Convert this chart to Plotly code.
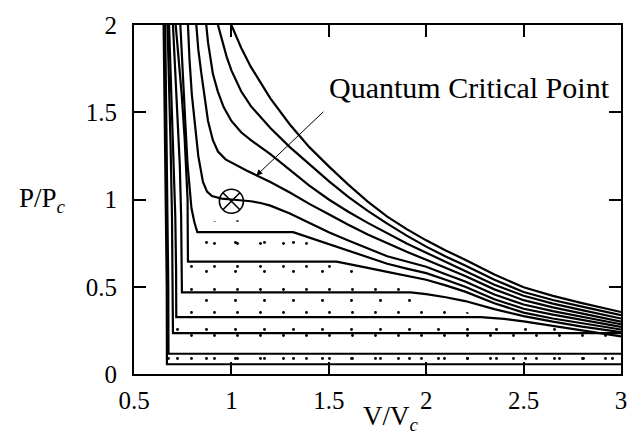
import plotly.graph_objects as go

# ---------------- data ----------------
x_ticks = [0.5, 1, 1.5, 2, 2.5, 3]
x_tick_text = ["0.5", "1", "1.5", "2", "2.5", "3"]
y_ticks = [0, 0.5, 1, 1.5, 2]
y_tick_text = ["0", "0.5", "1", "1.5", "2"]

# isotherms below the critical one (liquid branch, plateau, gas branch)
iso_056_v = [0.652, 0.658, 0.664, 0.668, 0.669, 3.0]
iso_056_p = [2.0, 1.5, 1.0, 0.5, 0.056, 0.056]

iso_116_v = [0.660, 0.666, 0.672, 0.676, 0.677, 3.0]
iso_116_p = [2.0, 1.5, 1.0, 0.5, 0.116, 0.116]

iso_234_v = [0.672, 0.680, 0.688, 0.695, 0.699, 0.700, 3.0]
iso_234_p = [2.0, 1.7, 1.3, 0.9, 0.5, 0.234, 0.234]

iso_326_v = [0.680, 0.686, 0.695, 0.705, 0.712, 0.716, 0.717, 2.28, 2.4, 2.5, 2.65, 2.8, 3.0]
iso_326_p = [2.0, 1.8, 1.5, 1.2, 0.9, 0.6, 0.326, 0.326, 0.316, 0.302, 0.276, 0.250, 0.215]

iso_468_v = [0.700, 0.710, 0.722, 0.735, 0.742, 0.745, 0.746, 1.92, 2.0, 2.1, 2.2, 2.35, 2.5, 2.65, 2.8, 3.0]
iso_468_p = [2.0, 1.75, 1.5, 1.2, 0.9, 0.7, 0.468, 0.468, 0.458, 0.440, 0.418, 0.372, 0.332, 0.300, 0.272, 0.240]

iso_644_v = [0.714, 0.730, 0.745, 0.760, 0.770, 0.775, 0.776, 0.777, 1.54, 1.6, 1.7, 1.8, 1.9, 2.0, 2.1, 2.2, 2.35, 2.5, 2.65, 2.8, 3.0]
iso_644_p = [2.0, 1.8, 1.6, 1.35, 1.15, 1.0, 0.8, 0.644, 0.644, 0.632, 0.608, 0.585, 0.562, 0.540, 0.508, 0.472, 0.405, 0.352, 0.318, 0.290, 0.255]

iso_813_v = [0.738, 0.750, 0.763, 0.775, 0.785, 0.795, 0.810, 0.825, 1.317, 1.4, 1.5, 1.6, 1.7, 1.8, 1.9, 2.0, 2.1, 2.2, 2.35, 2.5, 2.65, 2.8, 3.0]
iso_813_p = [2.0, 1.7, 1.45, 1.2, 1.05, 0.95, 0.87, 0.813, 0.813, 0.782, 0.745, 0.705, 0.667, 0.632, 0.604, 0.578, 0.540, 0.500, 0.428, 0.374, 0.340, 0.310, 0.270]

# critical isotherm (through the quantum critical point)
iso_crit_v = [0.777, 0.785, 0.797, 0.811, 0.830, 0.854, 0.875, 0.900, 0.950, 1.0, 1.05, 1.1, 1.15, 1.2, 1.3, 1.4, 1.5, 1.6, 1.7, 1.8, 1.9, 2.0, 2.1, 2.2, 2.35, 2.5, 2.65, 2.8, 3.0]
iso_crit_p = [2.0, 1.8, 1.6, 1.44, 1.25, 1.10, 1.045, 1.02, 1.005, 1.0, 0.997, 0.990, 0.980, 0.965, 0.920, 0.865, 0.812, 0.765, 0.718, 0.675, 0.645, 0.615, 0.572, 0.530, 0.455, 0.398, 0.360, 0.326, 0.285]

# isotherms above the critical one
iso_a_v = [0.820, 0.830, 0.846, 0.862, 0.880, 0.905, 0.931, 0.970, 1.026, 1.08, 1.13, 1.2, 1.3, 1.4, 1.5, 1.6, 1.7, 1.8, 1.9, 2.0, 2.1, 2.2, 2.35, 2.5, 2.65, 2.8, 3.0]
iso_a_p = [2.0, 1.86, 1.72, 1.58, 1.45, 1.34, 1.275, 1.23, 1.195, 1.165, 1.138, 1.10, 1.04, 0.975, 0.915, 0.855, 0.800, 0.748, 0.700, 0.655, 0.607, 0.562, 0.485, 0.423, 0.382, 0.346, 0.300]

iso_b_v = [0.871, 0.880, 0.905, 0.930, 0.960, 1.0, 1.05, 1.1, 1.2, 1.3, 1.4, 1.5, 1.6, 1.7, 1.8, 1.9, 2.0, 2.1, 2.2, 2.35, 2.5, 2.65, 2.8, 3.0]
iso_b_p = [2.0, 1.90, 1.72, 1.62, 1.53, 1.45, 1.385, 1.34, 1.26, 1.17, 1.08, 1.0, 0.93, 0.866, 0.807, 0.748, 0.695, 0.642, 0.592, 0.512, 0.448, 0.403, 0.366, 0.318]

iso_c_v = [0.931, 0.950, 0.975, 1.0, 1.05, 1.1, 1.2, 1.3, 1.4, 1.5, 1.6, 1.7, 1.8, 1.9, 2.0, 2.1, 2.2, 2.35, 2.5, 2.65, 2.8, 3.0]
iso_c_p = [2.0, 1.92, 1.82, 1.74, 1.62, 1.535, 1.41, 1.30, 1.20, 1.105, 1.015, 0.935, 0.862, 0.793, 0.730, 0.673, 0.622, 0.540, 0.470, 0.424, 0.386, 0.337]

iso_d_v = [1.0, 1.05, 1.1, 1.2, 1.3, 1.4, 1.5, 1.6, 1.7, 1.8, 1.9, 2.0, 2.1, 2.2, 2.35, 2.5, 2.65, 2.8, 3.0]
iso_d_p = [2.0, 1.87, 1.76, 1.58, 1.43, 1.30, 1.19, 1.085, 0.988, 0.902, 0.830, 0.766, 0.708, 0.655, 0.570, 0.497, 0.448, 0.406, 0.355]

# coexistence region (stippled)
dome_v = [0.667, 0.669, 0.677, 0.700, 0.717, 0.746, 0.777, 0.825, 0.86, 0.95, 1.1, 1.25, 1.317, 1.54, 1.92, 2.28, 2.5, 2.8, 3.0, 3.0, 0.667]
dome_p = [0.0, 0.056, 0.116, 0.234, 0.326, 0.468, 0.644, 0.813, 0.86, 0.885, 0.875, 0.84, 0.813, 0.644, 0.468, 0.326, 0.302, 0.250, 0.215, 0.0, 0.0]

qcp_v = [1.0]
qcp_p = [0.99]

label_text = "Quantum Critical Point"
label_v, label_p = 1.49, 1.64
arrow_tail_v, arrow_tail_p = 1.48, 1.511
arrow_tip_v, arrow_tip_p = 1.128, 1.137

# ---------------- figure ----------------
FONT = "Liberation Serif"
fig = go.Figure()

# two overlaid stipple patterns of different pitch give an irregular dot texture
for pitch, solid in ((23, 0.012), (29, 0.008)):
    fig.add_trace(go.Scatter(
        x=dome_v, y=dome_p, mode="lines", line=dict(width=0, color="black"),
        fill="toself", fillcolor="rgba(0,0,0,0)",
        fillpattern=dict(shape=".", size=pitch, solidity=solid, fgcolor="black",
                         bgcolor="rgba(0,0,0,0)", fillmode="replace"),
        hoverinfo="skip", showlegend=False))

curves = [
    (iso_056_v, iso_056_p), (iso_116_v, iso_116_p), (iso_234_v, iso_234_p),
    (iso_326_v, iso_326_p), (iso_468_v, iso_468_p), (iso_644_v, iso_644_p),
    (iso_813_v, iso_813_p), (iso_crit_v, iso_crit_p), (iso_a_v, iso_a_p),
    (iso_b_v, iso_b_p), (iso_c_v, iso_c_p), (iso_d_v, iso_d_p),
]
for v, p in curves:
    fig.add_trace(go.Scatter(x=v, y=p, mode="lines",
                             line=dict(color="black", width=2.2),
                             showlegend=False, hoverinfo="skip"))

fig.add_trace(go.Scatter(
    x=qcp_v, y=qcp_p, mode="markers",
    marker=dict(symbol="circle-x-open", size=24, color="black", line=dict(width=1.6, color="black")),
    showlegend=False, hoverinfo="skip"))

fig.add_annotation(x=arrow_tip_v, y=arrow_tip_p, ax=arrow_tail_v, ay=arrow_tail_p,
                   xref="x", yref="y", axref="x", ayref="y", text="",
                   showarrow=True, arrowhead=2, arrowsize=1.2, arrowwidth=1, arrowcolor="black")
fig.add_annotation(x=label_v, y=label_p, xref="x", yref="y", text=label_text,
                   showarrow=False, xanchor="left", yanchor="middle",
                   font=dict(family=FONT, size=30, color="black"))

fig.add_annotation(x=0.527, y=-0.125, xref="paper", yref="paper",
                   text="V/V<sub><i>c</i></sub>", showarrow=False,
                   xanchor="center", yanchor="middle",
                   font=dict(family=FONT, size=27, color="black"))
fig.add_annotation(x=-0.187, y=0.5, xref="paper", yref="paper",
                   text="P/P<sub><i>c</i></sub>", showarrow=False,
                   xanchor="center", yanchor="middle",
                   font=dict(family=FONT, size=27, color="black"))

axis_common = dict(showgrid=False, zeroline=False, showline=True, linecolor="black",
                   linewidth=2, mirror="ticks", ticks="inside", ticklen=12,
                   tickwidth=2, tickcolor="black",
                   tickfont=dict(family=FONT, size=25, color="black"))
fig.update_xaxes(range=[0.5, 3], tickvals=x_ticks, ticktext=x_tick_text,
                 ticklabelstandoff=3, **axis_common)
fig.update_yaxes(range=[0, 2], tickvals=y_ticks, ticktext=y_tick_text,
                 ticklabelstandoff=10, **axis_common)

fig.update_layout(width=639, height=437, margin=dict(l=134, r=18, t=18, b=63),
                  paper_bgcolor="white", plot_bgcolor="white", showlegend=False)

fig.write_html("out.html")
